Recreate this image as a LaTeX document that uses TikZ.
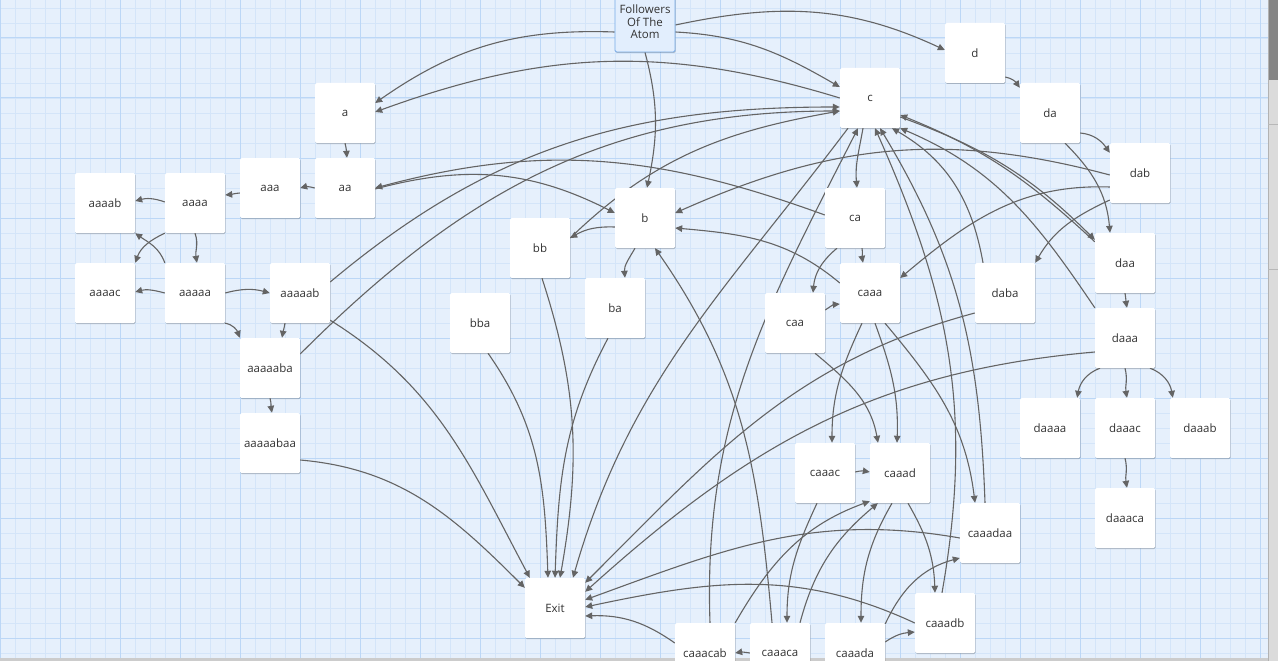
\documentclass[tikz,border=0pt]{standalone}
\usepackage{fontspec}
\newfontfamily\nf{Open Sans}
\usetikzlibrary{arrows.meta,shadows}
\pgfdeclarelayer{bg}
\pgfsetlayers{bg,main}
\definecolor{bgc}{RGB}{230,240,252}
\definecolor{minorc}{RGB}{212,229,249}
\definecolor{majorc}{RGB}{188,215,246}
\definecolor{edgec}{RGB}{100,100,100}
\definecolor{txtc}{RGB}{50,50,50}
\definecolor{fbc}{RGB}{226,238,253}
\definecolor{fborder}{RGB}{118,170,232}
\tikzset{
  box/.style={fill=white, minimum width=60pt, minimum height=60pt, inner sep=0pt,
    rounded corners=1.5pt, text=txtc, font=\nf\fontsize{11.5}{12.5}\selectfont,
    drop shadow={shadow xshift=0.5pt, shadow yshift=-1pt, opacity=0.22, fill=black}},
  fbox/.style={box, fill=fbc, draw=fborder, line width=0.9pt, align=center},
  cn/.style={draw=edgec, line width=1.1pt, -{Triangle[length=7pt,width=6.5pt]}},
  minor/.style={draw=minorc, line width=0.8pt},
  major/.style={draw=majorc, line width=1pt}
}
\begin{document}
\begin{tikzpicture}[x=1pt,y=-1pt]
\useasboundingbox (0,0) rectangle (1278,661);
% nodes
\node[fbox] (F) at (645,22) {Followers\\Of The\\Atom};
\node[box] (a) at (345,113) {a};
\node[box] (aa) at (345,188) {aa};
\node[box] (aaa) at (270,188) {aaa};
\node[box] (aaaa) at (195,203) {aaaa};
\node[box] (aaaab) at (105,203) {aaaab};
\node[box] (aaaac) at (105,293) {aaaac};
\node[box] (aaaaa) at (195,293) {aaaaa};
\node[box] (aaaaab) at (300,293) {aaaaab};
\node[box] (aaaaaba) at (270,368) {aaaaaba};
\node[box] (aaaaabaa) at (270,443) {aaaaabaa};
\node[box] (b) at (645,218) {b};
\node[box] (bb) at (540,248) {bb};
\node[box] (ba) at (615,308) {ba};
\node[box] (bba) at (480,323) {bba};
\node[box] (exit) at (555,608) {Exit};
\node[box] (c) at (870,98) {c};
\node[box] (d) at (975,53) {d};
\node[box] (da) at (1050,113) {da};
\node[box] (dab) at (1140,173) {dab};
\node[box] (ca) at (855,218) {ca};
\node[box] (caa) at (795,323) {caa};
\node[box] (caaa) at (870,293) {caaa};
\node[box] (daba) at (1005,293) {daba};
\node[box] (daa) at (1125,263) {daa};
\node[box] (daaa) at (1125,338) {daaa};
\node[box] (daaaa) at (1050,428) {daaaa};
\node[box] (daaac) at (1125,428) {daaac};
\node[box] (daaab) at (1200,428) {daaab};
\node[box] (daaaca) at (1125,518) {daaaca};
\node[box] (caaac) at (825,473) {caaac};
\node[box] (caaad) at (900,473) {caaad};
\node[box] (caaadaa) at (990,533) {caaadaa};
\node[box] (caaadb) at (945,623) {caaadb};
\node[box] (caaacab) at (705,653) {caaacab};
\node[box] (caaaca) at (780,653) {caaaca};
\node[box] (caaada) at (855,653) {caaada};
\begin{pgfonlayer}{bg}
\fill[bgc] (0,0) rectangle (1268,661);
\foreach \x in {0,15,...,1260} \draw[minor] (\x,0) -- (\x,661);
\foreach \y in {8,23,...,653} \draw[minor] (0,\y) -- (1268,\y);
\foreach \x in {0,60,...,1260} \draw[major] (\x,0) -- (\x,661);
\foreach \y in {38,98,...,638} \draw[major] (0,\y) -- (1268,\y);
\fill[black!14] (1268,0) rectangle (1278,661);
\fill[black!48] (1268,0) rectangle (1278,80);
\draw[black!30, line width=0.8pt] (1268,0) -- (1268,661);
\draw[black!28, line width=0.8pt] (1268,124) -- (1278,124);
\draw[black!28, line width=0.8pt] (1268,269) -- (1278,269);
\fill[black!20] (0,658) rectangle (1268,661);
% connectors
\draw[cn] ([yshift=-10pt]F.west) to[out=178,in=35] ([yshift=10pt]a.east);
\draw[cn] (c.west) to[out=163,in=20] ([yshift=1pt]a.east);
\draw[cn] ([yshift=-10pt]F.east) to[out=-3,in=150] ([yshift=11pt]c.west);
\draw[cn] ([yshift=-3pt]F.east) to[out=12,in=155] ([yshift=3pt]d.west);
\draw[cn] (F.south) to[out=-75,in=78] ([xshift=2pt]b.north);
\draw[cn] (a.south) to[out=-75,in=95] ([xshift=2pt]aa.north);
\draw[cn] (aa.west) to[out=165,in=15] (aaa.east);
\draw[cn] ([yshift=-5pt]aaa.west) to[out=185,in=5] ([yshift=8pt]aaaa.east);
\draw[cn] ([yshift=1pt]aaaa.west) to[out=160,in=15] ([yshift=2pt]aaaab.east);
\draw[cn] (aaaa.south) to[out=-70,in=100] ([xshift=2pt]aaaaa.north);
\draw[cn] (aaaa.south west) to[out=205,in=70] (aaaac.north east);
\draw[cn] (aaaaa.north west) to[out=110,in=-35] (aaaab.south east);
\draw[cn] (aaaaa.west) to[out=165,in=15] ([yshift=1pt]aaaac.east);
\draw[cn] (aaaaa.east) to[out=15,in=165] (aaaaab.west);
\draw[cn] (aaaaa.south east) to[out=-10,in=110] (aaaaaba.north west);
\draw[cn] ([xshift=-15pt]aaaaab.south) to[out=-100,in=80] ([xshift=12pt]aaaaaba.north);
\draw[cn] (aaaaaba.south) to[out=-75,in=100] ([xshift=2pt]aaaaabaa.north);
\draw[cn] ([yshift=11pt]aaaaab.east) to[out=40,in=180] ([yshift=-9pt]c.west);
\draw[cn] ([yshift=14pt]aaaaaba.east) to[out=45,in=180] ([yshift=-13pt]c.west);
\draw[cn] ([yshift=3pt]aaaaab.south east) to[out=-32,in=118] ([xshift=5pt]exit.north west);
\draw[cn] ([yshift=-17pt]aaaaabaa.east) to[out=-5,in=135] ([yshift=-10pt]exit.north west);
\draw[cn] ([yshift=-1pt]aa.east) to[out=15,in=153] ([yshift=5pt]b.west);
\draw[cn] ([yshift=3pt]ca.west) to[out=160,in=15] (aa.east);
\draw[cn] ([yshift=-9pt]b.west) to[out=178,in=30] ([yshift=10pt]bb.east);
\draw[cn] ([yshift=10pt]bb.east) to[out=44,in=190] ([yshift=-13pt]c.west);
\draw[cn] ([xshift=-10pt]b.south) to[out=-120,in=95] ([xshift=10pt]ba.north);
\draw[cn] ([xshift=2pt]bb.south) to[out=-72,in=80] ([xshift=5pt]exit.north);
\draw[cn] ([xshift=-7pt]ba.south) to[out=-118,in=88] (exit.north);
\draw[cn] ([xshift=8pt]bba.south) to[out=-55,in=92] ([xshift=-7pt]exit.north);
\draw[cn] ([xshift=-22pt]c.south) to[out=-127,in=74] ([xshift=18pt]exit.north);
\draw[cn] ([xshift=5pt]caaacab.north) to[out=92,in=-117] ([xshift=-12pt]c.south);
\draw[cn] ([xshift=-7pt]c.south) to[out=-100,in=95] ([xshift=2pt]ca.north);
\draw[cn] ([xshift=7pt]ca.south) to[out=-80,in=100] ([xshift=-7pt]caaa.north);
\draw[cn] ([xshift=-18pt]ca.south) to[out=-140,in=85] ([xshift=18pt]caa.north);
\draw[cn] ([yshift=13pt]caa.east) to[out=35,in=185] ([yshift=-11pt]caaa.west);
\draw[cn] ([xshift=20pt]caa.south) to[out=-40,in=100] ([xshift=-22pt]caaad.north);
\draw[cn] ([xshift=-8pt]caaa.south) to[out=-115,in=90] ([xshift=7pt]caaac.north);
\draw[cn] ([xshift=5pt]caaa.south) to[out=-70,in=88] ([xshift=-3pt]caaad.north);
\draw[cn] ([xshift=15pt]caaa.south) to[out=-50,in=97] ([xshift=-15pt]caaadaa.north);
\draw[cn] ([yshift=-14pt]dab.west) to[out=178,in=40] ([yshift=15pt]caaa.east);
\draw[cn] ([yshift=-27pt]dab.west) to[out=205,in=60] (daba.north east);
\draw[cn] ([yshift=-2pt]dab.west) to[out=165,in=24] ([yshift=5pt]b.east);
\draw[cn] ([yshift=10pt]caaa.west) to[out=140,in=-5] ([yshift=-10pt]b.east);
\draw[cn] ([xshift=-8pt]caaaca.north) to[out=95,in=-55] ([xshift=10pt]b.south);
\draw[cn] ([xshift=-22pt]daba.north) to[out=100,in=-30] ([xshift=22pt]c.south);
\draw[cn] (daaa.north west) to[out=124,in=-23] (c.south east);
\draw[cn] ([xshift=-5pt]caaadaa.north) to[out=92,in=-59] ([xshift=10pt]c.south);
\draw[cn] ([xshift=-3pt]caaadb.north) to[out=80,in=-66] ([xshift=5pt]c.south);
\draw[cn] ([yshift=-19pt]c.east) to[out=-20,in=135] ([yshift=-7pt]daa.north west);
\draw[cn] ([yshift=-9pt]daa.north west) to[out=137,in=-22] ([yshift=-17pt]c.east);
\draw[cn] ([yshift=-24pt]d.east) to[out=-10,in=125] ([yshift=-5pt]da.north west);
\draw[cn] ([yshift=-20pt]da.east) to[out=-5,in=125] ([yshift=-10pt]dab.north west);
\draw[cn] ([xshift=15pt]da.south) to[out=-45,in=95] ([xshift=-15pt]daa.north);
\draw[cn] (daa.south) to[out=-80,in=100] ([xshift=2pt]daaa.north);
\draw[cn] ([xshift=-25pt]daaa.south) to[out=200,in=80] ([xshift=-3pt]daaaa.north east);
\draw[cn] (daaa.south) to[out=-75,in=100] ([xshift=2pt]daaac.north);
\draw[cn] ([xshift=25pt]daaa.south) to[out=-20,in=100] ([xshift=3pt]daaab.north west);
\draw[cn] (daaac.south) to[out=-75,in=100] ([xshift=2pt]daaaca.north);
\draw[cn] ([yshift=-20pt]daba.west) to[out=195,in=45] ([yshift=-5pt]exit.north east);
\draw[cn] ([yshift=-14pt]daaa.west) to[out=185,in=42] ([yshift=-14pt]exit.north east);
\draw[cn] ([yshift=-5pt]caaadaa.west) to[out=170,in=20] ([yshift=-22pt]exit.north east);
\draw[cn] (caaadb.west) to[out=155,in=12] ([yshift=1pt]exit.east);
\draw[cn] ([yshift=10pt]caaacab.west) to[out=145,in=2] ([yshift=-8pt]exit.east);
\draw[cn] (caaaca.west) to[out=170,in=10] (caaacab.east);
\draw[cn] ([yshift=1pt]caaac.east) to[out=15,in=170] ([yshift=1pt]caaad.west);
\draw[cn] ([xshift=-8pt]caaac.south) to[out=-115,in=90] ([xshift=7pt]caaaca.north);
\draw[cn] (caaacab.north east) to[out=60,in=-160] ([yshift=2pt]caaad.south west);
\draw[cn] ([xshift=20pt]caaaca.north) to[out=75,in=-140] ([xshift=8pt]caaad.south west);
\draw[cn] ([xshift=-8pt]caaad.south) to[out=-120,in=90] ([xshift=6pt]caaada.north);
\draw[cn] ([xshift=8pt]caaad.south) to[out=-60,in=92] ([xshift=-10pt]caaadb.north);
\draw[cn] ([yshift=11pt]caaada.east) to[out=35,in=185] ([yshift=-9pt]caaadb.west);
\draw[cn] ([yshift=29pt]caaada.east) to[out=65,in=-165] ([yshift=-25pt]caaadaa.west);
\end{pgfonlayer}
\end{tikzpicture}
\end{document}
